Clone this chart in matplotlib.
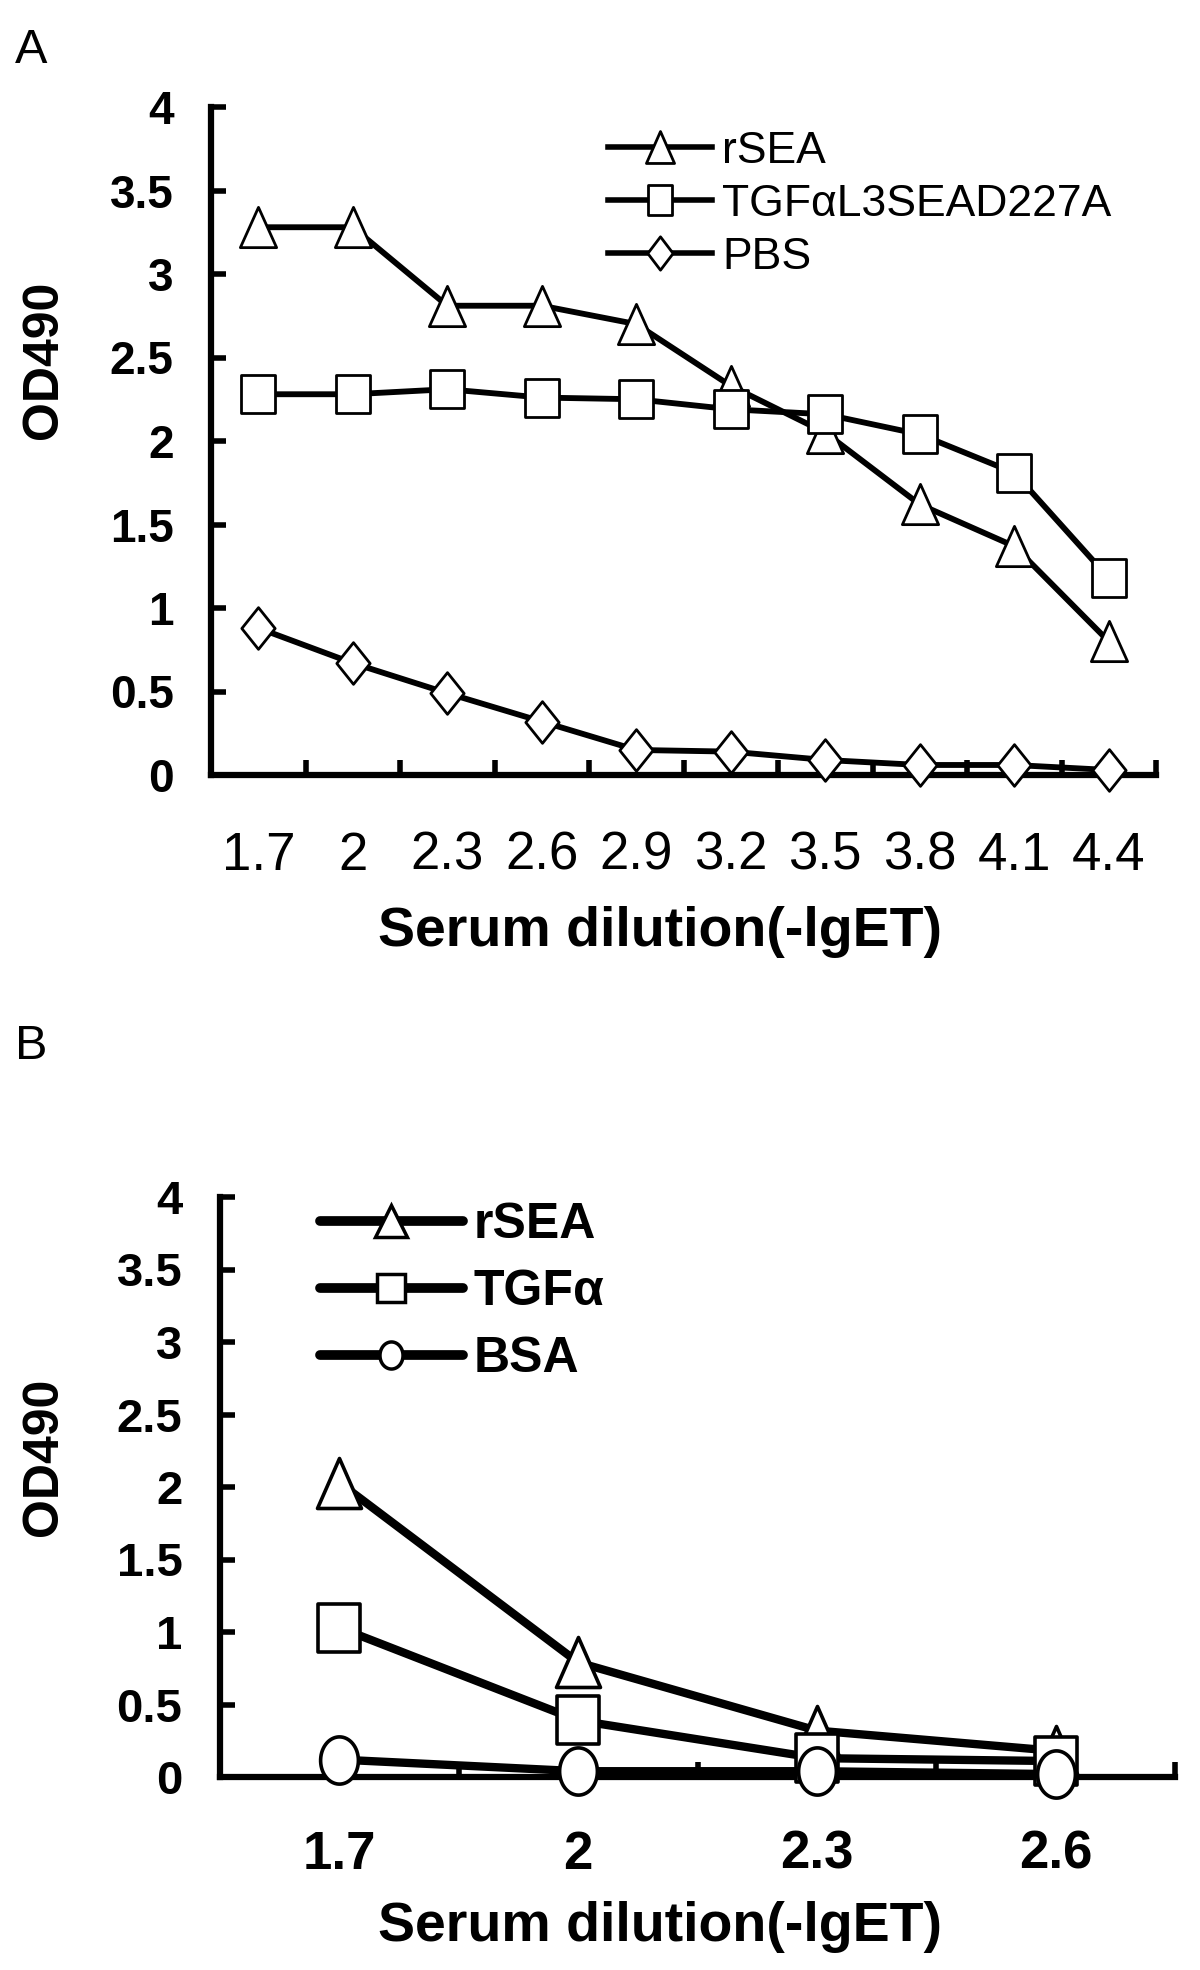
import numpy as np
import matplotlib
matplotlib.use('Agg')
import matplotlib.pyplot as plt
from matplotlib import font_manager
from matplotlib.path import Path
from matplotlib.lines import Line2D
from matplotlib.ticker import FixedLocator

# fonts: narrow face for the condensed tick labels if it is there
names = {f.name for f in font_manager.fontManager.ttflist}
REG = 'Liberation Sans'
NARROW = 'Liberation Sans Narrow' if 'Liberation Sans Narrow' in names else REG

# ---- data ----
dil_a = ['1.7', '2', '2.3', '2.6', '2.9', '3.2', '3.5', '3.8', '4.1', '4.4']
rsea_a = [3.28, 3.28, 2.81, 2.81, 2.70, 2.33, 2.05, 1.62, 1.37, 0.80]
tgf_a = [2.28, 2.28, 2.31, 2.26, 2.25, 2.19, 2.16, 2.04, 1.81, 1.18]
pbs_a = [0.88, 0.67, 0.49, 0.32, 0.15, 0.14, 0.09, 0.06, 0.06, 0.03]

dil_b = ['1.7', '2', '2.3', '2.6']
rsea_b = [2.03, 0.79, 0.32, 0.18]
tgf_b = [1.03, 0.39, 0.13, 0.11]
bsa_b = [0.12, 0.04, 0.04, 0.02]

yticks = [0, 0.5, 1, 1.5, 2, 2.5, 3, 3.5, 4]


# marker shapes (slightly tall, like the original)
def poly(v):
    v = list(v) + [v[0]]
    return Path(v, closed=True)

def tri(r):
    return poly([(0, 1), (-r, -1), (r, -1)])

def rect(r):
    return poly([(-r, -1), (r, -1), (r, 1), (-r, 1)])

def diamond(r):
    return poly([(0, 1), (r, 0), (0, -1), (-r, 0)])

def ellipse(r):
    t = np.linspace(0, 2 * np.pi, 64)[:-1]
    return poly(list(zip(r * np.cos(t), np.sin(t))))


W, H = 1200, 1970
fig = plt.figure(figsize=(12, 19.7), dpi=100)

def px_axes(l, r, t, b):
    return fig.add_axes([l / W, 1 - b / H, (r - l) / W, (b - t) / H])

def style_axes(ax, n, xfont, xweight, yfont, yweight, xsize, ysize, xpad, ypad):
    for s in ['top', 'right']:
        ax.spines[s].set_visible(False)
    for s in ['left', 'bottom']:
        ax.spines[s].set_linewidth(4.5)
    ax.set_xlim(-0.5, n - 0.5)
    ax.set_ylim(0, 4)
    ax.set_xticks(range(n))
    ax.xaxis.set_minor_locator(FixedLocator(np.arange(n) + 0.5))
    ax.tick_params(axis='x', which='major', length=0, pad=xpad)
    ax.tick_params(axis='x', which='minor', direction='in', length=11, width=4)
    ax.set_yticks(yticks)
    ax.set_yticklabels(['%g' % v for v in yticks])
    ax.tick_params(axis='y', direction='in', length=11, width=4, pad=ypad)
    for lab in ax.get_xticklabels():
        lab.set_fontfamily(xfont)
        lab.set_fontweight(xweight)
        lab.set_fontsize(xsize)
    for lab in ax.get_yticklabels():
        lab.set_fontfamily(yfont)
        lab.set_fontweight(yweight)
        lab.set_fontsize(ysize)


# ---------------- panel A ----------------
axA = px_axes(211, 1156, 107, 775)
xa = np.arange(len(dil_a))
kwA = dict(color='k', lw=4.2, mfc='white', mec='k', mew=2, clip_on=False, zorder=5)
axA.plot(xa, rsea_a, marker=tri(0.9), ms=29, **kwA)
axA.plot(xa, tgf_a, marker=rect(0.9), ms=27, **kwA)
axA.plot(xa, pbs_a, marker=diamond(0.8), ms=30, **kwA)
axA.set_xticklabels(dil_a)
style_axes(axA, len(dil_a), NARROW, 'normal', REG, 'bold', 38, 33, 40, 27)

axA.set_ylabel('OD490', fontfamily=REG, fontweight='bold', fontsize=36, va='center')
axA.yaxis.set_label_coords((44 - 211) / 945, (775 - 360) / 668)
axA.set_xlabel('Serum dilution(-lgET)', fontfamily=REG, fontweight='bold', fontsize=40, va='center')
axA.xaxis.set_label_coords((660 - 211) / 945, (775 - 932) / 668)

hA = [Line2D([], [], color='k', lw=4, marker=tri(0.88), ms=23, mfc='white', mec='k', mew=2),
      Line2D([], [], color='k', lw=4, marker=rect(0.83), ms=21.5, mfc='white', mec='k', mew=2),
      Line2D([], [], color='k', lw=4, marker=diamond(0.76), ms=24, mfc='white', mec='k', mew=2)]
legA = axA.legend(hA, ['rSEA', 'TGFαL3SEAD227A', 'PBS'], loc='upper left',
                  bbox_to_anchor=(608 / W, 1 - 131 / H), bbox_transform=fig.transFigure,
                  frameon=False, borderpad=0, borderaxespad=0, handlelength=2.35,
                  handletextpad=0.22, labelspacing=0.27,
                  prop={'family': REG, 'size': 32})

fig.text(15 / W, 1 - 63 / H, 'A', fontfamily=REG, fontsize=35, ha='left', va='baseline')

# ---------------- panel B ----------------
axB = px_axes(220, 1175, 1197, 1777)
xb = np.arange(len(dil_b))
kwB = dict(color='k', lw=6, mfc='white', mec='k', mew=2.6, clip_on=False, zorder=5)
axB.plot(xb, rsea_b, marker=tri(0.88), ms=36, **kwB)
axB.plot(xb, tgf_b, marker=rect(0.87), ms=34, **kwB)
axB.plot(xb, bsa_b, marker=ellipse(0.8), ms=34, **kwB)
axB.set_xticklabels(dil_b)
style_axes(axB, len(dil_b), NARROW, 'bold', REG, 'bold', 38, 34, 38, 27)

axB.set_ylabel('OD490', fontfamily=REG, fontweight='bold', fontsize=36, va='center')
axB.yaxis.set_label_coords((44 - 220) / 955, (1777 - 1457) / 580)
axB.set_xlabel('Serum dilution(-lgET)', fontfamily=REG, fontweight='bold', fontsize=40, va='center')
axB.xaxis.set_label_coords((660 - 220) / 955, (1777 - 1927) / 580)

hB = [Line2D([], [], color='k', lw=7, marker='^', ms=23, mfc='white', mec='k', mew=2.5),
      Line2D([], [], color='k', lw=7, marker='s', ms=20, mfc='white', mec='k', mew=2.5),
      Line2D([], [], color='k', lw=7, marker=ellipse(0.85), ms=19.5, mfc='white', mec='k', mew=2.5)]
legB = axB.legend(hB, ['rSEA', 'TGFα', 'BSA'], loc='upper left',
                  bbox_to_anchor=(320 / W, 1 - 1202 / H), bbox_transform=fig.transFigure,
                  frameon=False, borderpad=0, borderaxespad=0, handlelength=2.85,
                  handletextpad=0.22, labelspacing=0.42,
                  prop={'family': REG, 'weight': 'bold', 'size': 36})
for ln in legB.get_lines():
    ln.set_solid_capstyle('round')

fig.text(15 / W, 1 - 1059 / H, 'B', fontfamily=REG, fontsize=35, ha='left', va='baseline')

fig.savefig('out.png', dpi=100, facecolor='white')
